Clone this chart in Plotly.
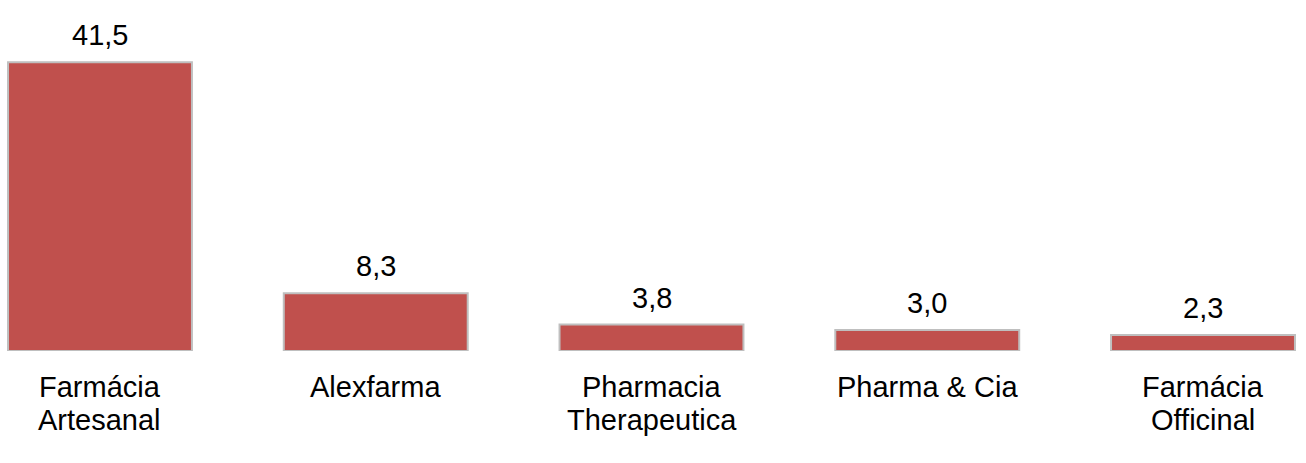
import plotly.graph_objects as go

categories = ["Farmácia<br>Artesanal", "Alexfarma", "Pharmacia<br>Therapeutica", "Pharma & Cia", "Farmácia<br>Officinal"]
values = [41.5, 8.3, 3.8, 3.0, 2.3]
value_labels = ["41,5", "8,3", "3,8", "3,0", "2,3"]

FONT = "Liberation Sans, Arial, sans-serif"
FSIZE = 29

fig = go.Figure(go.Bar(
    x=categories, y=values,
    marker=dict(color="#C0504D", line=dict(color="#BFBFBF", width=2)),
    hoverinfo="skip",
))

annotations = []
for c, v, lab in zip(categories, values, value_labels):
    annotations.append(dict(x=c, y=v, xref="x", yref="y", text=lab, showarrow=False,
                            yanchor="bottom", yshift=9, font=dict(family=FONT, size=FSIZE, color="black")))
    for i, line in enumerate(c.split("<br>")):
        annotations.append(dict(x=c, y=0, xref="x", yref="y", text=line, showarrow=False,
                                yanchor="top", yshift=-18 - 33 * i,
                                font=dict(family=FONT, size=FSIZE, color="black")))

fig.update_layout(
    width=1306, height=463,
    margin=dict(l=0, r=0, t=0, b=112),
    paper_bgcolor="white", plot_bgcolor="white",
    bargap=0.333,
    showlegend=False,
    hovermode=False,
    xaxis=dict(range=[-0.3626, 4.3735], showticklabels=False, showgrid=False, zeroline=False, showline=False, ticks=""),
    yaxis=dict(range=[0, 50.43], visible=False),
    annotations=annotations,
)

fig.write_html("out.html", config={"displayModeBar": False},
               post_script="document.body.style.margin='0';document.body.style.overflow='hidden';")
